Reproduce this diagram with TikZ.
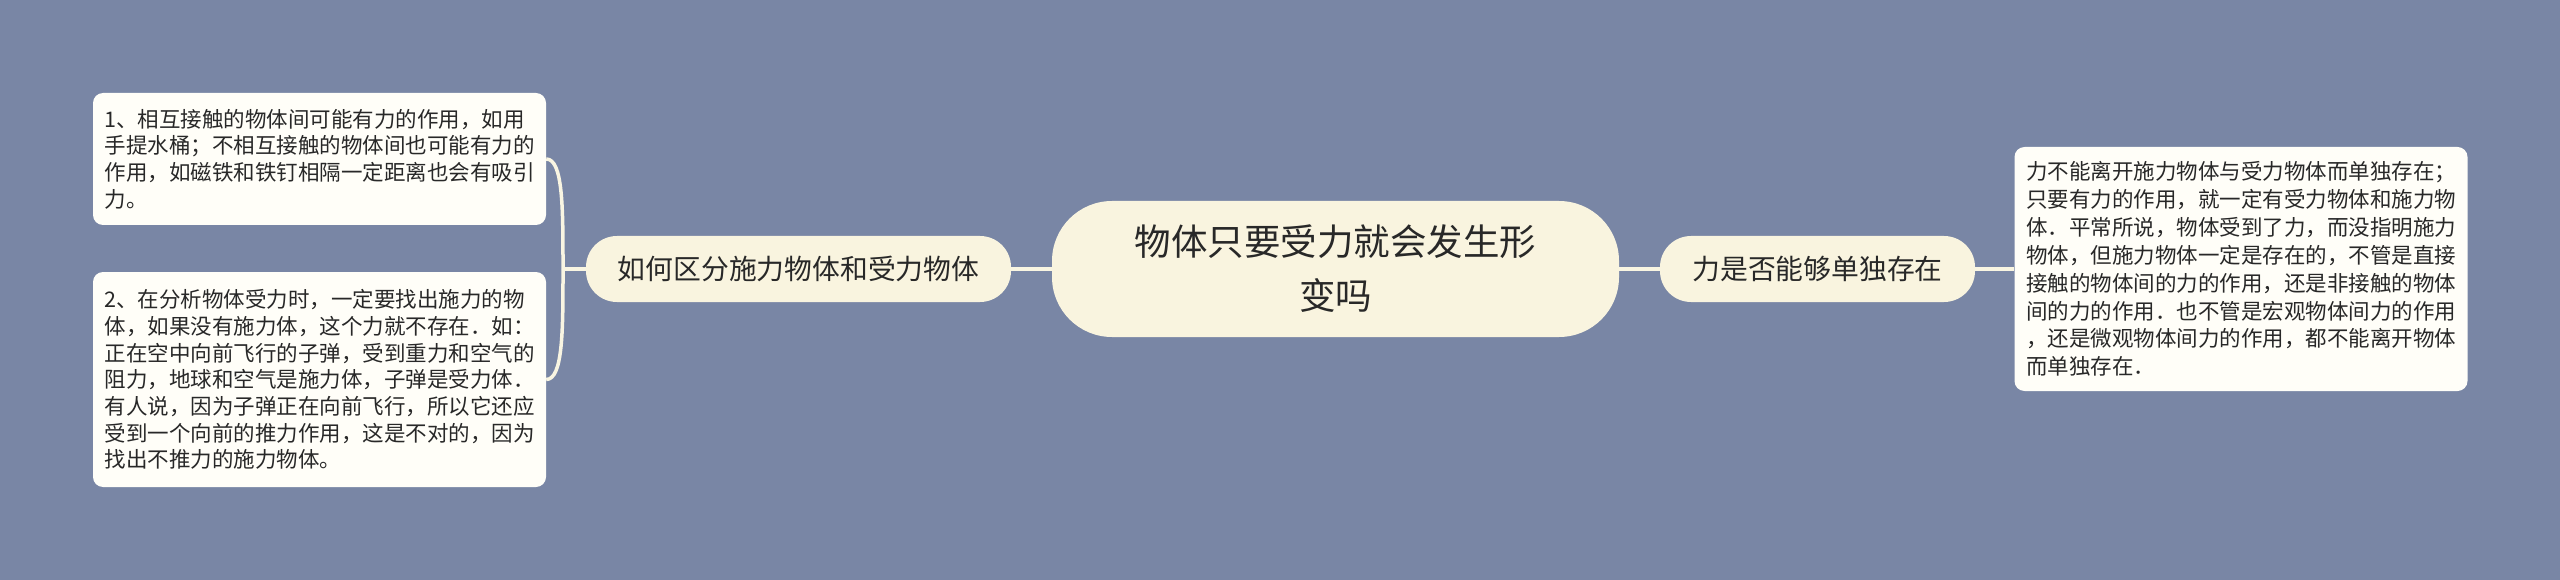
\documentclass[tikz,border=0pt]{standalone}
\usepackage{fontspec}
\setmainfont{Noto Sans CJK SC}
\usetikzlibrary{calc}
\definecolor{bg}{RGB}{121,134,165}
\definecolor{cream}{RGB}{249,244,223}
\definecolor{leaffill}{RGB}{255,254,248}
\definecolor{linecol}{RGB}{249,245,226}
\definecolor{txt}{RGB}{40,40,40}
\tikzset{
  rootbox/.style={fill=cream, rounded corners=60pt, minimum width=567pt, minimum height=136pt, inner sep=0pt, align=center, text=txt, font=\fontsize{36.5}{54}\selectfont},
  midbox/.style={fill=cream, rounded corners=31pt, minimum height=66pt, inner sep=0pt, text=txt, font=\fontsize{27.8}{33}\selectfont},
  leafbox/.style={fill=leaffill, rounded corners=10pt, minimum width=453pt, inner xsep=11.5pt, inner ysep=0pt, text width=430pt, align=left, text=txt},
  conn/.style={draw=linecol, line width=3.5pt}
}
\begin{document}
\begin{tikzpicture}[x=1pt,y=-1pt]
\fill[bg] (0,0) rectangle (2560,580);
\useasboundingbox (0,0) rectangle (2560,580);

\node[rootbox] (root) at (1335.5,269) {物体只要受力就会发生形\\变吗};
\node[midbox, minimum width=425pt] (m1) at (798.5,269) {如何区分施力物体和受力物体};
\node[midbox, minimum width=315pt] (m2) at (1817.5,269) {力是否能够单独存在};

\node[leafbox, minimum height=132pt, font=\fontsize{21.5}{26.7}\selectfont] (l1) at (319.5,159) {1、相互接触的物体间可能有力的作用，如用\\手提水桶；不相互接触的物体间也可能有力的\\作用，如磁铁和铁钉相隔一定距离也会有吸引\\力。};
\node[leafbox, minimum height=215pt, font=\fontsize{21.5}{26.7}\selectfont] (l2) at (319.5,379.5) {2、在分析物体受力时，一定要找出施力的物\\体，如果没有施力体，这个力就不存在．如：\\正在空中向前飞行的子弹，受到重力和空气的\\阻力，地球和空气是施力体，子弹是受力体．\\有人说，因为子弹正在向前飞行，所以它还应\\受到一个向前的推力作用，这是不对的，因为\\找出不推力的施力物体。};
\node[leafbox, minimum height=244pt, font=\fontsize{21.5}{27.9}\selectfont] (r1) at (2241,269) {力不能离开施力物体与受力物体而单独存在；\\只要有力的作用，就一定有受力物体和施力物\\体．平常所说，物体受到了力，而没指明施力\\物体，但施力物体一定是存在的，不管是直接\\接触的物体间的力的作用，还是非接触的物体\\间的力的作用．也不管是宏观物体间力的作用\\，还是微观物体间力的作用，都不能离开物体\\而单独存在．};

\coordinate (j) at (563,269);
\draw[conn] (root.west) -- (m1.east);
\draw[conn] (root.east) -- (m2.west);
\draw[conn] (m2.east) -- (r1.west);
\draw[conn] (m1.west) -- (j);
\draw[conn] (l1.east) .. controls ($(l1.east)+(17,0)$) and ($(j)+(0,-60)$) .. (j);
\draw[conn] (l2.east) .. controls ($(l2.east)+(17,0)$) and ($(j)+(0,60)$) .. (j);
\end{tikzpicture}
\end{document}
